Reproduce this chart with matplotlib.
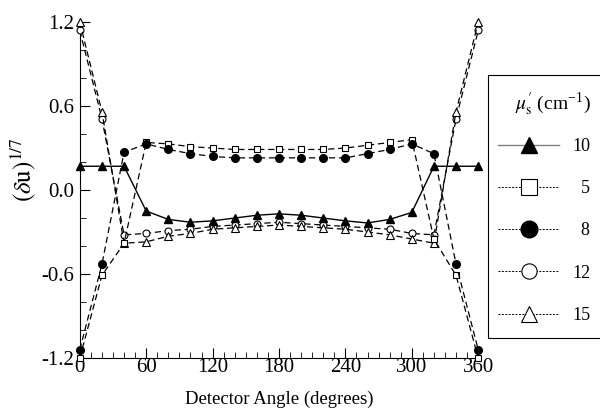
import matplotlib
matplotlib.use("Agg")
import matplotlib.pyplot as plt
from matplotlib.ticker import MultipleLocator, FormatStrFormatter
from matplotlib.patches import Rectangle

plt.rcParams['font.family'] = ['Liberation Serif', 'DejaVu Serif']
plt.rcParams['mathtext.fontset'] = 'stix'

angle = [0, 20, 40, 60, 80, 100, 120, 140, 160, 180, 200, 220, 240, 260, 280, 300, 320, 340, 360]
mu10 = [0.17, 0.17, 0.17, -0.15, -0.21, -0.23, -0.22, -0.20, -0.18, -0.17, -0.18, -0.20, -0.22, -0.235, -0.21, -0.16, 0.17, 0.17, 0.17]
mu5 = [-1.2, -0.61, -0.38, 0.34, 0.33, 0.31, 0.30, 0.29, 0.29, 0.29, 0.29, 0.29, 0.30, 0.32, 0.34, 0.36, -0.35, -0.61, -1.2]
mu8 = [-1.14, -0.53, 0.27, 0.33, 0.29, 0.26, 0.24, 0.23, 0.23, 0.23, 0.23, 0.23, 0.23, 0.26, 0.29, 0.33, 0.26, -0.53, -1.14]
mu12 = [1.14, 0.51, -0.32, -0.31, -0.29, -0.28, -0.26, -0.25, -0.24, -0.23, -0.24, -0.25, -0.26, -0.27, -0.28, -0.31, -0.32, 0.51, 1.14]
mu15 = [1.2, 0.56, -0.38, -0.37, -0.33, -0.31, -0.28, -0.27, -0.26, -0.25, -0.26, -0.27, -0.28, -0.30, -0.32, -0.35, -0.38, 0.56, 1.2]

fig = plt.figure(figsize=(6, 4.17), dpi=100)
ax = fig.add_axes([0.133, 0.1415, 0.664, 0.8055])

dash = (0, (5, 3))
ax.plot(angle, mu10, color='black', lw=1.0, ls='-', marker='^', ms=5.5, mfc='black', clip_on=False, zorder=5)
ax.plot(angle, mu5, color='black', lw=0.9, ls=dash, marker='s', ms=5, mfc='white', mew=0.8, clip_on=False, zorder=4)
ax.plot(angle, mu8, color='black', lw=0.9, ls=dash, marker='o', ms=5.5, mfc='black', clip_on=False, zorder=4)
ax.plot(angle, mu12, color='black', lw=0.9, ls=dash, marker='o', ms=5, mfc='white', mew=0.8, clip_on=False, zorder=3)
ax.plot(angle, mu15, color='black', lw=0.9, ls=dash, marker='^', ms=5.5, mfc='white', mew=0.8, clip_on=False, zorder=3)

ax.set_xlim(0, 360)
ax.set_ylim(-1.2, 1.2)
ax.xaxis.set_major_locator(MultipleLocator(60))
ax.xaxis.set_minor_locator(MultipleLocator(10))
ax.yaxis.set_major_locator(MultipleLocator(0.6))
ax.yaxis.set_minor_locator(MultipleLocator(0.2))
ax.yaxis.set_major_formatter(FormatStrFormatter('%.1f'))
ax.tick_params(which='both', direction='in', labelsize=15, top=False, right=False)
ax.tick_params(which='major', length=7, width=0.8)
ax.tick_params(which='minor', length=4, width=0.6)
ax.tick_params(axis='x', pad=0)
ax.tick_params(axis='y', pad=4)
ax.spines['top'].set_visible(False)
ax.spines['right'].set_visible(False)

ax.set_xlabel('Detector Angle (degrees)', fontsize=13.5, labelpad=10)
ax.set_ylabel(r'$(\delta \mathrm{u})^{1/7}$', fontsize=18)
ax.yaxis.set_label_coords(-0.105, 0.56)

# legend box on the right, running off the figure edge
fig.patches.append(Rectangle((0.813, 0.19), 0.3, 0.63, transform=fig.transFigure,
                             fill=False, edgecolor='black', lw=0.8, clip_on=False))
fig.text(0.922, 0.75, r"$\mu_\mathrm{s}^{\prime}$ (cm$^{\mathregular{-1}}$)", fontsize=14,
         ha='center', va='center')

h10, = ax.plot([], [], color='gray', lw=1.0, ls='-', marker='^', ms=11, mfc='black', mec='black')
h5, = ax.plot([], [], color='black', lw=0.7, ls=(0, (2, 1.5)), marker='s', ms=11, mfc='white', mec='black', mew=0.8)
h8, = ax.plot([], [], color='black', lw=0.7, ls=(0, (2, 1.5)), marker='o', ms=12, mfc='black', mec='black')
h12, = ax.plot([], [], color='black', lw=0.7, ls=(0, (2, 1.5)), marker='o', ms=11, mfc='white', mec='black', mew=0.8)
h15, = ax.plot([], [], color='black', lw=0.7, ls=(0, (2, 1.5)), marker='^', ms=11, mfc='white', mec='black', mew=0.8)
labels = ['10', '\u20075', '\u20078', '12', '15']
leg = fig.legend([h10, h5, h8, h12, h15], labels, loc='upper left',
                 bbox_to_anchor=(0.815, 0.691), frameon=False, fontsize=13,
                 handlelength=3.4, handletextpad=0.7, labelspacing=1.4, borderpad=0.0)

fig.savefig('out.png', dpi=100)
